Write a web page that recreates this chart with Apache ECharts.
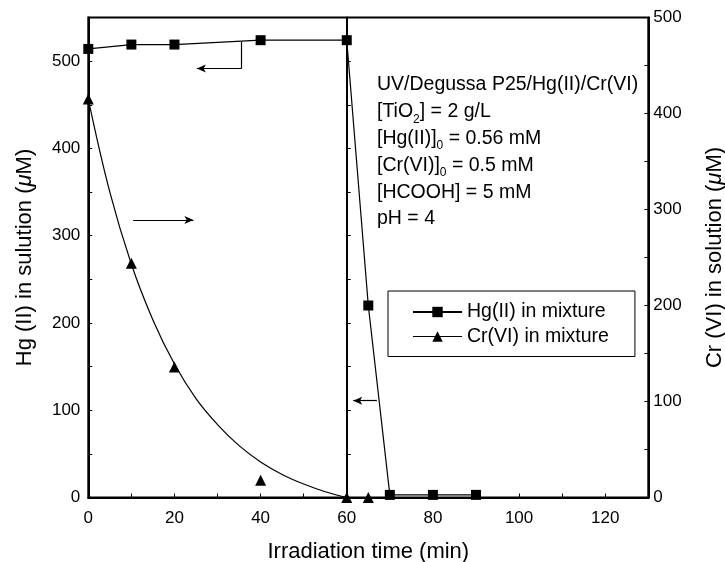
<!DOCTYPE html>
<html>
<head>
<meta charset="utf-8">
<script src="https://cdn.jsdelivr.net/npm/echarts@6/dist/echarts.min.js"></script>
<style>
html,body{margin:0;padding:0;background:#fff;}
#chart{width:725px;height:562px;}
</style>
</head>
<body>
<div id="chart"></div>
<script>
// ---- data ----
const hgTime = [0, 10, 20, 40, 60, 65, 70, 80, 90];
const hgValues = [514, 519, 519, 524, 524, 220, 3, 3, 3];
const crTime = [0, 10, 20, 40, 60, 65];
const crValues = [415, 244, 136, 18, 0, 0];
const crFitTime = [0, 5, 10, 15, 20, 25, 30, 35, 40, 45, 50, 55, 60];
const crFitValues = [415, 318, 243, 185, 139, 103, 76, 54, 37, 24, 14, 6, 0];
const xTickLabels = [0, 20, 40, 60, 80, 100, 120];
const leftTickLabels = [0, 100, 200, 300, 400, 500];
const rightTickLabels = [0, 100, 200, 300, 400, 500];
const seriesNames = ['Hg(II) in mixture', 'Cr(VI) in mixture'];
const annotationLines = [
  'UV/Degussa P25/Hg(II)/Cr(VI)',
  '[TiO{s|2}] = 2 g/L',
  '[Hg(II)]{s|0} = 0.56 mM',
  '[Cr(VI)]{s|0} = 0.5 mM',
  '[HCOOH] = 5 mM',
  'pH = 4'
];
// arrows in data units (x: min, y: left axis units)
const arrowBracket = [[35.6, 522], [35.6, 491.6]];
const arrowLeftTop = [[35.6, 491.6], [25.2, 491.6]];
const arrowRight = [[10.4, 318], [24.4, 318]];
const arrowLeftBottom = [[67, 111], [61.5, 111]];
const markerTime = 60;

const FONT = 'Liberation Sans, Arial, Helvetica, sans-serif';
const xMax = 130;
const gridLeft = 88.3, gridRight = 76.7;
const plotWidth = 725 - gridLeft - gridRight;

const zip = (a, b) => a.map((v, i) => [v, b[i]]);
const seg = (p, sym) => [
  { coord: p[0], symbol: 'none' },
  { coord: p[1], symbol: sym }
];
const only = list => v => (list.includes(v) ? String(v) : '');

const chart = echarts.init(document.getElementById('chart'), null, { renderer: 'canvas' });

const tickLabelStyle = { color: '#000', fontSize: 17, fontFamily: FONT };
const nameStyle = { color: '#000', fontSize: 22, fontFamily: FONT, rich: { i: { fontStyle: 'italic', fontSize: 22, fontFamily: FONT, color: '#000' } } };

const option = {
  animation: false,
  backgroundColor: '#fff',
  grid: {
    left: gridLeft, right: gridRight, top: 17.5, bottom: 64.5,
    outerBoundsMode: 'none', containLabel: false,
    show: true, borderColor: '#000', borderWidth: 2, backgroundColor: 'transparent'
  },
  xAxis: {
    type: 'value', min: 0, max: xMax, interval: 10,
    name: 'Irradiation time (min)', nameLocation: 'middle', nameGap: 43,
    nameTextStyle: { color: '#000', fontSize: 22, fontFamily: FONT },
    axisLine: { show: true, lineStyle: { color: '#000', width: 2 } },
    axisTick: { show: true, inside: true, length: 4, lineStyle: { color: '#000', width: 1 } },
    axisLabel: { ...tickLabelStyle, margin: 12, showMaxLabel: false, formatter: only(xTickLabels) },
    splitLine: { show: false }
  },
  yAxis: [
    {
      type: 'value', min: 0, max: 550, interval: 50, position: 'left',
      name: 'Hg (II) in sulution ({i|μ}M)', nameLocation: 'middle', nameGap: 52,
      nameTextStyle: nameStyle,
      axisLine: { show: true, lineStyle: { color: '#000', width: 2 } },
      axisTick: { show: true, inside: true, length: 4, lineStyle: { color: '#000', width: 1 } },
      axisLabel: { ...tickLabelStyle, margin: 8, formatter: only(leftTickLabels) },
      splitLine: { show: false }
    },
    {
      type: 'value', min: 0, max: 500, interval: 50, position: 'right',
      name: 'Cr (VI) in solution ({i|μ}M)', nameLocation: 'middle', nameGap: 56,
      nameTextStyle: nameStyle,
      axisLine: { show: true, lineStyle: { color: '#000', width: 2 } },
      axisTick: { show: true, inside: true, length: 4, lineStyle: { color: '#000', width: 1 } },
      axisLabel: { ...tickLabelStyle, margin: 5, formatter: only(rightTickLabels) },
      splitLine: { show: false }
    },
    {
      // vertical divider at t = 60 min, carrying small ticks
      type: 'value', min: 0, max: 550, interval: 50, position: 'left',
      offset: -(plotWidth * markerTime / xMax),
      axisLine: { show: true, onZero: false, lineStyle: { color: '#000', width: 2 } },
      axisTick: { show: true, inside: true, length: 4, lineStyle: { color: '#000', width: 1 } },
      axisLabel: { show: false },
      splitLine: { show: false }
    }
  ],
  legend: {
    orient: 'vertical', left: 388, top: 291,
    padding: [11, 26, 10, 24],
    borderColor: '#000', borderWidth: 1, borderRadius: 0,
    itemWidth: 49, itemHeight: 13, itemGap: 4.5,
    textStyle: { color: '#000', fontSize: 19.5, fontFamily: FONT },
    data: [
      { name: seriesNames[0] },
      { name: seriesNames[1], lineStyle: { opacity: 1, width: 1, color: '#000' } }
    ]
  },
  graphic: [
    {
      type: 'text', left: 377, top: 71.6, silent: true,
      style: {
        text: annotationLines.join('\n'),
        fill: '#000', fontSize: 19.5, fontFamily: FONT, lineHeight: 26.8,
        rich: {
          s: { fontSize: 12, fontFamily: FONT, fill: '#000', verticalAlign: 'bottom', lineHeight: 12 }
        }
      }
    }
  ],
  series: [
    {
      name: seriesNames[0], type: 'line', xAxisIndex: 0, yAxisIndex: 0,
      data: zip(hgTime, hgValues),
      symbol: 'rect', symbolSize: 10, showAllSymbol: true,
      itemStyle: { color: '#000' },
      lineStyle: { color: '#000', width: 1.2 },
      z: 5,
      markLine: {
        silent: true, animation: false,
        symbolSize: [6, 9],
        label: { show: false },
        lineStyle: { color: '#000', width: 1.2, type: 'solid' },
        emphasis: { disabled: true },
        data: [
          seg(arrowBracket, 'none'),
          seg(arrowLeftTop, 'arrow'),
          seg(arrowRight, 'arrow'),
          seg(arrowLeftBottom, 'arrow')
        ]
      }
    },
    {
      name: seriesNames[1], type: 'line', xAxisIndex: 0, yAxisIndex: 1,
      data: zip(crTime, crValues),
      symbol: 'triangle', symbolSize: 11, showAllSymbol: true,
      itemStyle: { color: '#000' },
      lineStyle: { color: '#000', width: 1, opacity: 0 },
      z: 5
    },
    {
      name: 'Cr(VI) fit', type: 'line', xAxisIndex: 0, yAxisIndex: 1,
      data: zip(crFitTime, crFitValues),
      smooth: 0.4, showSymbol: false, symbol: 'none',
      lineStyle: { color: '#000', width: 1.2 },
      z: 4
    }
  ]
};

chart.setOption(option);
</script>
</body>
</html>
